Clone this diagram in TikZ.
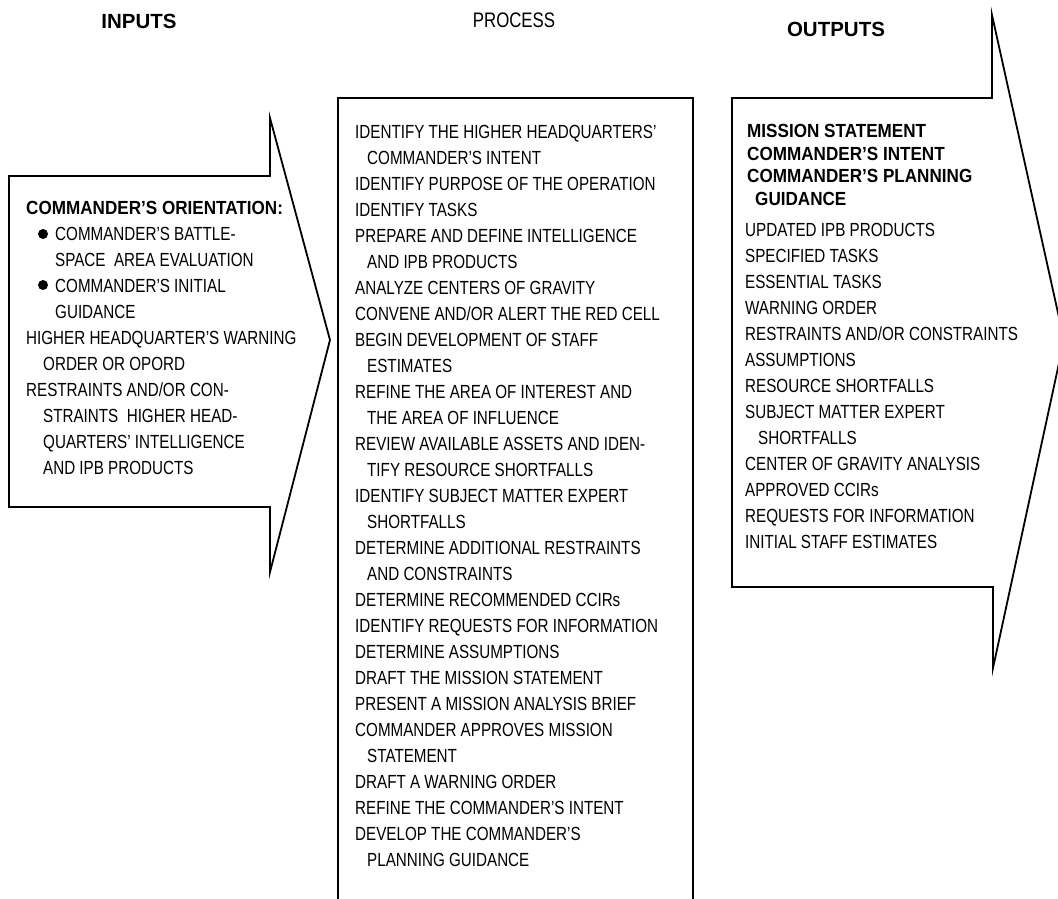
\documentclass[tikz,border=0pt]{standalone}
\usepackage{fontspec}
\setmainfont{Liberation Sans}
\newfontfamily\condfont[FakeStretch=0.80]{Liberation Sans}
\newfontfamily\boldcond[FakeStretch=0.90]{Liberation Sans}
\usetikzlibrary{positioning}

\begin{document}
\begin{tikzpicture}[x=1pt,y=-1pt]
	\tikzstyle{Frame}	= [line width=1.8pt, line join=miter]
	\tikzstyle{Item}	= [anchor=base west, inner sep=0pt, font=\condfont\fontsize{19}{26}\selectfont]
	\tikzstyle{Lead}	= [anchor=base west, inner sep=0pt, font=\boldcond\bfseries\fontsize{19}{26}\selectfont]
	\tikzstyle{Head}	= [anchor=base, inner sep=0pt, font=\bfseries\fontsize{20.5}{24}\selectfont]
	\tikzstyle{Dot}		= [circle, fill=black, minimum size=10pt, inner sep=0pt]

	\useasboundingbox (0,0) rectangle (1058,898);

	% column titles
	\node[Head] (inputs) at (139,28) {INPUTS};
	\node[Head, font=\condfont\fontsize{21}{24}\selectfont] (process) at (514,27) {PROCESS};
	\node[Head] (outputs) at (836,36) {OUTPUTS};

	% the two arrows and the open box
	\draw[Frame] (9,176) -- (270,176) -- (270,118) -- (330,340) -- (270,572) -- (270,507) -- (9,507) -- cycle;
	\draw[Frame] (338,905) -- (338,98) -- (693,98) -- (693,905);
	\draw[Frame] (732,98) -- (992,98) -- (992,15) -- (1064,340) -- (993,668) -- (993,587) -- (732,587) -- cycle;

	% inputs
	\node[Lead] (orient) at (26,214) {COMMANDER’S ORIENTATION:};
	\node[Dot] (dot1) at (43,234) {};
	\node[Dot] (dot2) at (43,285) {};
	\foreach \x/\t [count=\i] in {55/{COMMANDER’S BATTLE-}, 55/{SPACE\ \ AREA EVALUATION}, 55/{COMMANDER’S INITIAL}, 55/{GUIDANCE},
			26/{HIGHER HEADQUARTER’S WARNING}, 43/{ORDER OR OPORD}, 26/{RESTRAINTS AND/OR CON-}, 43/{STRAINTS\ \ HIGHER HEAD-},
			43/{QUARTERS’ INTELLIGENCE}, 43/{AND IPB PRODUCTS}}
		\node[Item] (in\i) at (\x, 214+26*\i) {\t};

	% process
	\foreach \x/\t [count=\i from 0] in {355/{IDENTIFY THE HIGHER HEADQUARTERS’}, 367/{COMMANDER’S INTENT},
			355/{IDENTIFY PURPOSE OF THE OPERATION}, 355/{IDENTIFY TASKS}, 355/{PREPARE AND DEFINE INTELLIGENCE},
			367/{AND IPB PRODUCTS}, 355/{ANALYZE CENTERS OF GRAVITY}, 355/{CONVENE AND/OR ALERT THE RED CELL},
			355/{BEGIN DEVELOPMENT OF STAFF}, 367/{ESTIMATES}, 355/{REFINE THE AREA OF INTEREST AND},
			367/{THE AREA OF INFLUENCE}, 355/{REVIEW AVAILABLE ASSETS AND IDEN-}, 367/{TIFY RESOURCE SHORTFALLS},
			355/{IDENTIFY SUBJECT MATTER EXPERT}, 367/{SHORTFALLS}, 355/{DETERMINE ADDITIONAL RESTRAINTS},
			367/{AND CONSTRAINTS}, 355/{DETERMINE RECOMMENDED CCIRs}, 355/{IDENTIFY REQUESTS FOR INFORMATION},
			355/{DETERMINE ASSUMPTIONS}, 355/{DRAFT THE MISSION STATEMENT}, 355/{PRESENT A MISSION ANALYSIS BRIEF},
			355/{COMMANDER APPROVES MISSION}, 367/{STATEMENT}, 355/{DRAFT A WARNING ORDER},
			355/{REFINE THE COMMANDER’S INTENT}, 355/{DEVELOP THE COMMANDER’S}, 367/{PLANNING GUIDANCE}}
		\node[Item] (proc\i) at (\x, 138+26*\i) {\t};

	% outputs
	\foreach \x/\t [count=\i from 0] in {747/{MISSION STATEMENT}, 747/{COMMANDER’S INTENT}, 747/{COMMANDER’S PLANNING}, 755/{GUIDANCE}}
		\node[Lead] (key\i) at (\x, 137.5+22.5*\i) {\t};
	\foreach \x/\t [count=\i from 0] in {745/{UPDATED IPB PRODUCTS}, 745/{SPECIFIED TASKS}, 745/{ESSENTIAL TASKS},
			745/{WARNING ORDER}, 745/{RESTRAINTS AND/OR CONSTRAINTS}, 745/{ASSUMPTIONS}, 745/{RESOURCE SHORTFALLS},
			745/{SUBJECT MATTER EXPERT}, 758/{SHORTFALLS}, 745/{CENTER OF GRAVITY ANALYSIS}, 745/{APPROVED CCIRs},
			745/{REQUESTS FOR INFORMATION}, 745/{INITIAL STAFF ESTIMATES}}
		\node[Item] (out\i) at (\x, 236+26*\i) {\t};
\end{tikzpicture}
\end{document}
